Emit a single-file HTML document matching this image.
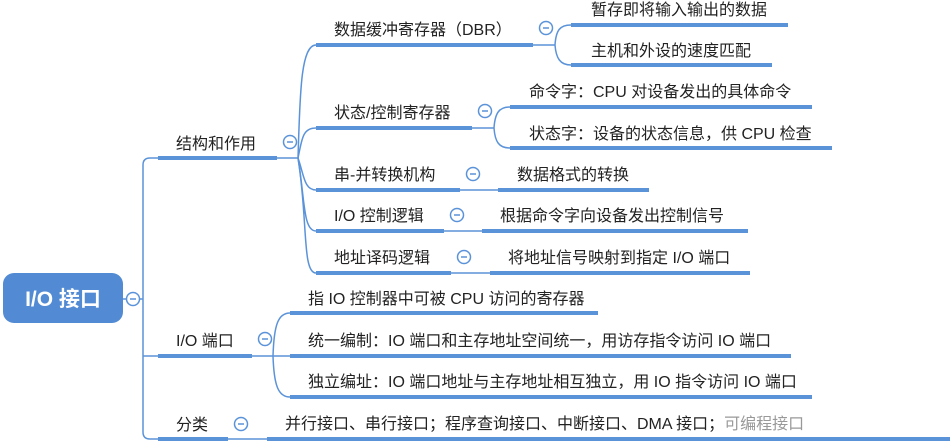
<!DOCTYPE html>
<html><head><meta charset="utf-8"><style>
html,body{margin:0;padding:0;background:#fff;}
svg{display:block}
text{font-family:"Liberation Sans","Noto Sans CJK SC",sans-serif;font-size:16px;fill:#222;}
</style></head><body>
<svg width="950" height="446" viewBox="0 0 950 446" xmlns="http://www.w3.org/2000/svg">
<g fill="none" stroke="#5b93d9" stroke-width="1.5">
<path d="M123 299 L143 299"/>
<path d="M158 158 L150 158 Q143 158 143 165 L143 432 Q143 439 150 439 L158 439"/>
<path d="M143 356 Q143 356 158 356"/>
<path d="M277 158 L298 158"/>
<path d="M298 158 C300 100, 300 45, 316 45"/>
<path d="M298 158 C302 140, 302 128, 316 128"/>
<path d="M298 158 C304 175, 304 190, 316 190"/>
<path d="M298 158 C305 200, 303 231, 316 231"/>
<path d="M298 158 C308 220, 302 273, 316 273"/>
<path d="M533 45 L555 45"/>
<path d="M555 45 C556 30, 560 25, 571 25"/>
<path d="M555 45 C556 58, 560 65, 571 65"/>
<path d="M472 128 L494 128"/>
<path d="M494 128 C495 113, 499 107, 510 107"/>
<path d="M494 128 C495 142, 499 148, 510 148"/>
<path d="M460 190 L498 190"/>
<path d="M444 231 L482 231"/>
<path d="M451 273 L490 273"/>
<path d="M252 356 L273 356"/>
<path d="M273 356 C274 325, 278 313, 290 313"/>
<path d="M273 356 L290 356"/>
<path d="M273 356 C274 385, 278 397, 290 397"/>
<path d="M228 439 L267 439"/>
</g>
<g stroke="#5b93d9" stroke-width="4" stroke-linecap="butt">
<line x1="158" y1="158" x2="277" y2="158"/>
<line x1="158" y1="356" x2="252" y2="356"/>
<line x1="158" y1="439" x2="228" y2="439"/>
<line x1="316" y1="45" x2="533" y2="45"/>
<line x1="316" y1="128" x2="472" y2="128"/>
<line x1="316" y1="190" x2="460" y2="190"/>
<line x1="316" y1="231" x2="444" y2="231"/>
<line x1="316" y1="273" x2="451" y2="273"/>
<line x1="571" y1="25" x2="788" y2="25"/>
<line x1="571" y1="65" x2="772" y2="65"/>
<line x1="510" y1="107" x2="812" y2="107"/>
<line x1="510" y1="148" x2="832" y2="148"/>
<line x1="498" y1="190" x2="649" y2="190"/>
<line x1="482" y1="231" x2="748" y2="231"/>
<line x1="490" y1="273" x2="750" y2="273"/>
<line x1="290" y1="313" x2="598" y2="313"/>
<line x1="290" y1="356" x2="791" y2="356"/>
<line x1="290" y1="397" x2="812" y2="397"/>
<line x1="267" y1="439" x2="950" y2="439"/>
</g>
<g fill="#fff" stroke="#5b93d9" stroke-width="1.5">
<circle cx="133" cy="299" r="6.5"/>
<circle cx="290" cy="142" r="6.5"/>
<circle cx="265" cy="339" r="6.5"/>
<circle cx="241" cy="424" r="6.5"/>
<circle cx="546" cy="28" r="6.5"/>
<circle cx="485" cy="111" r="6.5"/>
<circle cx="473" cy="174" r="6.5"/>
<circle cx="457" cy="215" r="6.5"/>
<circle cx="464" cy="257" r="6.5"/>
</g>
<g stroke="#5b93d9" stroke-width="1.5">
<line x1="130" y1="299" x2="136" y2="299"/>
<line x1="287" y1="142" x2="293" y2="142"/>
<line x1="262" y1="339" x2="268" y2="339"/>
<line x1="238" y1="424" x2="244" y2="424"/>
<line x1="543" y1="28" x2="549" y2="28"/>
<line x1="482" y1="111" x2="488" y2="111"/>
<line x1="470" y1="174" x2="476" y2="174"/>
<line x1="454" y1="215" x2="460" y2="215"/>
<line x1="461" y1="257" x2="467" y2="257"/>
</g>
<rect x="3" y="273" width="120" height="50" rx="11" fill="#528bd3"/>
<text x="63" y="306" text-anchor="middle" style="font-size:21px;font-weight:bold;fill:#fff">I/O 接口</text>
<text x="176" y="149">结构和作用</text>
<text x="176" y="346">I/O 端口</text>
<text x="176" y="430">分类</text>
<text x="334" y="35">数据缓冲寄存器（DBR）</text>
<text x="334" y="118">状态/控制寄存器</text>
<text x="334" y="180">串-并转换机构</text>
<text x="334" y="221">I/O 控制逻辑</text>
<text x="334" y="263">地址译码逻辑</text>
<text x="591" y="15">暂存即将输入输出的数据</text>
<text x="591" y="56">主机和外设的速度匹配</text>
<text x="529" y="97">命令字：CPU 对设备发出的具体命令</text>
<text x="529" y="139">状态字：设备的状态信息，供 CPU 检查</text>
<text x="517" y="180">数据格式的转换</text>
<text x="500" y="221">根据命令字向设备发出控制信号</text>
<text x="508" y="263">将地址信号映射到指定 I/O 端口</text>
<text x="308" y="304">指 IO 控制器中可被 CPU 访问的寄存器</text>
<text x="308" y="346">统一编制：IO 端口和主存地址空间统一，用访存指令访问 IO 端口</text>
<text x="308" y="387">独立编址：IO 端口地址与主存地址相互独立，用 IO 指令访问 IO 端口</text>
<text x="285" y="429">并行接口、串行接口；程序查询接口、中断接口、DMA 接口；<tspan style="fill:#999">可编程接口</tspan></text>
</svg>
</body></html>
